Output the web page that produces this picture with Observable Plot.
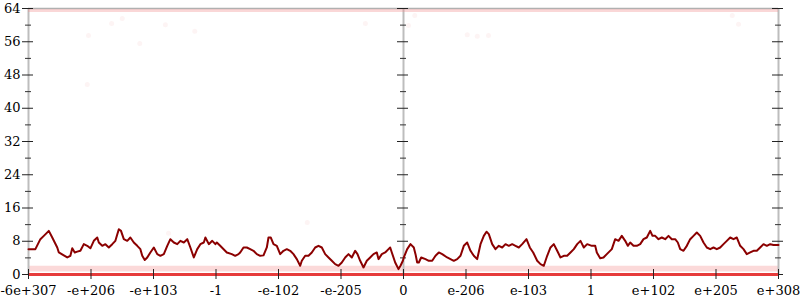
<!DOCTYPE html>
<html>
<head>
<meta charset="utf-8">
<script src="https://cdn.jsdelivr.net/npm/d3@7"></script>
<script src="https://cdn.jsdelivr.net/npm/@observablehq/plot@0.6"></script>
<style>
  html, body { margin: 0; padding: 0; background: #fff; }
  #chart svg { display: block; }
</style>
</head>
<body>
<div id="chart"></div>
<script>
// x positions are in "tick units": 0 = first tick label, 12 = last
const xTickLabels = ["-6e+307", "-e+206", "-e+103", "-1", "-e-102", "-e-205", "0",
                     "e-206", "e-103", "1", "e+102", "e+205", "e+308"];
const xAxisLines = [0, 6, 12];
const yMajor = [0, 8, 16, 24, 32, 40, 48, 56, 64];
const yMinor = [4, 12, 20, 28, 36, 44, 52, 60];

// running line
const lineX = [0, 0.11, 0.19, 0.245, 0.325, 0.38, 0.46, 0.485, 0.565, 0.62, 0.67, 0.70, 0.74, 0.78, 0.83, 0.885, 0.94, 0.99,
  1.045, 1.10, 1.125, 1.18, 1.23, 1.285, 1.34, 1.39, 1.445, 1.48, 1.525, 1.58, 1.63, 1.685, 1.74, 1.79, 1.82, 1.86, 1.90, 1.95,
  2.005, 2.06, 2.11, 2.165, 2.22, 2.27, 2.325, 2.38, 2.43, 2.485, 2.54, 2.59, 2.645, 2.70, 2.75, 2.805, 2.83, 2.885, 2.94, 2.99,
  3.013, 3.067, 3.173, 3.253, 3.307, 3.36, 3.387, 3.44, 3.493, 3.547, 3.60, 3.653, 3.707, 3.76, 3.813, 3.84, 3.877, 3.92, 3.973,
  4.027, 4.08, 4.133, 4.187, 4.24, 4.293, 4.347, 4.373, 4.427, 4.48, 4.533, 4.587, 4.64, 4.693, 4.747, 4.80, 4.853, 4.907, 4.96,
  5.013, 5.067, 5.12, 5.173, 5.227, 5.264, 5.307, 5.36, 5.413, 5.467, 5.52, 5.573, 5.60, 5.653, 5.707, 5.76, 5.787, 5.813, 5.867,
  5.92, 5.952, 5.99,
  6.005, 6.059, 6.112, 6.165, 6.192, 6.219, 6.245, 6.283, 6.352, 6.405, 6.459, 6.512, 6.565, 6.619, 6.699, 6.752, 6.805, 6.859,
  6.912, 6.965, 7.019, 7.072, 7.125, 7.179, 7.232, 7.285, 7.328, 7.365, 7.419, 7.472, 7.525, 7.579, 7.632, 7.685, 7.739, 7.792,
  7.845, 7.899, 7.968, 8.021, 8.075, 8.139, 8.192, 8.245, 8.299, 8.352, 8.405, 8.459, 8.512, 8.565, 8.619, 8.672, 8.725, 8.779,
  8.832, 8.885, 8.939,
  9.013, 9.067, 9.093, 9.147, 9.20, 9.253, 9.333, 9.387, 9.44, 9.493, 9.547, 9.589, 9.627, 9.68, 9.733, 9.787, 9.84, 9.893, 9.947,
  9.984, 10.027, 10.08, 10.133, 10.187, 10.24, 10.293, 10.347, 10.389, 10.427, 10.48, 10.533, 10.587, 10.64, 10.693, 10.747, 10.80,
  10.853, 10.907, 10.96, 11.013, 11.067, 11.12, 11.173, 11.227, 11.28, 11.333, 11.387, 11.44, 11.493, 11.547, 11.60, 11.653,
  11.707, 11.76, 11.813, 11.867, 11.92, 12.0];
const lineY = [6.1, 6.1, 8.5, 9.3, 10.5, 8.9, 6.5, 5.3, 4.6, 4.1, 4.5, 6.3, 5.3, 5.5, 5.7, 7.3, 6.9, 6.3,
  8.1, 8.9, 7.7, 6.9, 7.3, 6.5, 7.3, 8.1, 10.9, 10.5, 8.5, 8.1, 8.9, 7.7, 6.9, 6.1, 4.5, 3.5, 4.1, 5.3,
  6.5, 4.9, 4.5, 4.9, 6.9, 8.5, 7.7, 7.3, 8.1, 7.7, 8.5, 6.5, 4.1, 6.1, 7.3, 7.7, 8.9, 7.3, 8.1, 7.3,
  7.7, 6.9, 5.3, 4.9, 4.5, 4.9, 5.3, 6.5, 6.5, 6.1, 5.7, 4.9, 4.5, 4.6, 6.5, 8.9, 8.9, 7.3, 6.9,
  4.9, 5.7, 6.1, 5.7, 4.9, 3.7, 2.1, 3.3, 4.5, 4.5, 5.3, 6.5, 6.9, 6.5, 4.9, 4.1, 3.3, 2.5, 2.1,
  2.9, 4.1, 4.9, 4.1, 5.7, 4.9, 3.3, 1.7, 3.3, 4.1, 4.9, 5.3, 3.7, 4.9, 5.3, 6.1, 6.5, 5.3, 2.9,
  1.3, 2.1, 3.3,
  4.1, 6.1, 7.3, 6.5, 4.9, 2.9, 2.9, 4.1, 3.7, 3.3, 3.3, 4.5, 5.3, 4.9, 4.1, 3.7, 3.3, 3.7,
  4.5, 6.9, 7.7, 5.7, 4.5, 3.7, 7.3, 9.3, 10.3, 9.7, 7.3, 6.1, 6.9, 6.5, 7.3, 6.9, 7.3, 6.9,
  6.5, 7.3, 8.5, 6.5, 5.3, 3.3, 2.5, 2.1, 4.5, 6.5, 7.3, 5.7, 4.1, 4.5, 4.5, 5.3, 6.1, 7.3,
  8.1, 6.5, 7.3,
  6.9, 6.9, 5.3, 3.9, 4.1, 4.9, 6.1, 8.5, 8.1, 9.3, 8.1, 6.9, 7.7, 6.9, 6.9, 7.3, 8.5, 8.9, 10.5,
  9.3, 9.3, 8.5, 8.9, 8.5, 9.3, 8.5, 8.5, 7.7, 6.1, 5.7, 6.9, 8.5, 9.3, 10.1, 9.3, 7.7,
  6.5, 6.1, 6.5, 6.1, 6.5, 7.3, 8.1, 8.9, 8.5, 8.9, 6.9, 6.1, 4.9, 5.3, 5.7, 5.7,
  6.5, 7.3, 6.9, 7.3, 7.1, 7.1];

// faint scattered samples
const dotX = [0.96, 0.94, 1.33, 1.50, 1.78, 2.19, 2.66, 5.39, 6.18, 6.08, 7.02, 7.18, 7.36, 11.26, 11.36, 2.24, 4.46];
const dotY = [57.5, 45.7, 60.4, 61.6, 55.6, 60.1, 58.5, 60.4, 62.3, 59.9, 57.7, 57.3, 57.5, 62.3, 60.2, 9.9, 12.5];

// dense bands of samples at the extremes
const bandLow = [0.6, 2.0];
const topValue = 64;
const bottomValue = 0;

const line = lineX.map((x, i) => ({x, y: lineY[i]}));
const dots = dotX.map((x, i) => ({x, y: dotY[i]}));
const xt = xTickLabels.map((label, i) => ({x: i, label}));
const ymaj = xAxisLines.flatMap(x => yMajor.map(y => ({x, y})));
const ymin = xAxisLines.flatMap(x => yMinor.map(y => ({x, y})));

const font = "DejaVu Serif";

const chart = Plot.plot({
  width: 800,
  height: 300,
  marginLeft: 28,
  marginRight: 22,
  marginTop: 8,
  marginBottom: 26,
  style: {fontFamily: font, fontSize: "13px", background: "#fff", color: "#000"},
  x: {domain: [0, 12], axis: null},
  y: {domain: [0, 64], axis: null},
  marks: [
    // band of samples just above zero
    Plot.areaY([{x: 0}, {x: 12}], {x: "x", y1: bandLow[0], y2: bandLow[1], fill: "#f7b9b9", fillOpacity: 0.55}),
    // vertical axis lines
    Plot.ruleX(xAxisLines, {y1: 0, y2: 64, stroke: "#bdbdbd", strokeWidth: 2}),
    // top line
    Plot.ruleY([topValue], {stroke: "#b0b0b0", strokeWidth: 1.5}),
    Plot.ruleY([topValue], {stroke: "#f28c8c", strokeOpacity: 0.35, strokeWidth: 3, dy: 2}),
    // scattered samples
    Plot.dot(dots, {x: "x", y: "y", r: 2.5, fill: "#e04040", fillOpacity: 0.06}),
    // y ticks (crossing)
    Plot.ruleY(ymaj, {y: "y", x1: "x", x2: "x", insetLeft: -6, insetRight: -5, stroke: "#222", strokeWidth: 1}),
    Plot.ruleY(ymin, {y: "y", x1: "x", x2: "x", insetLeft: -3, insetRight: -3, stroke: "#333", strokeWidth: 1}),
    // y labels
    Plot.text(yMajor, {x: 0, y: d => d, text: d => String(d), dx: -8, textAnchor: "end", fill: "#000", fontSize: 13}),
    // bottom band (dense samples at 0)
    Plot.ruleY([bottomValue], {stroke: "#e63b3b", strokeWidth: 3}),
    // x ticks
    Plot.ruleX(xt, {x: "x", y1: 0, y2: 0, insetTop: -5, insetBottom: -5, stroke: "#222", strokeWidth: 1}),
    Plot.text(xt, {x: "x", y: 0, text: "label", dy: 16, fill: "#000", fontSize: 13, lineAnchor: "middle"}),
    // running line
    Plot.line(line, {x: "x", y: "y", stroke: "#8b0000", strokeWidth: 2, curve: "linear"})
  ]
});
document.getElementById("chart").appendChild(chart);
</script>
</body>
</html>
